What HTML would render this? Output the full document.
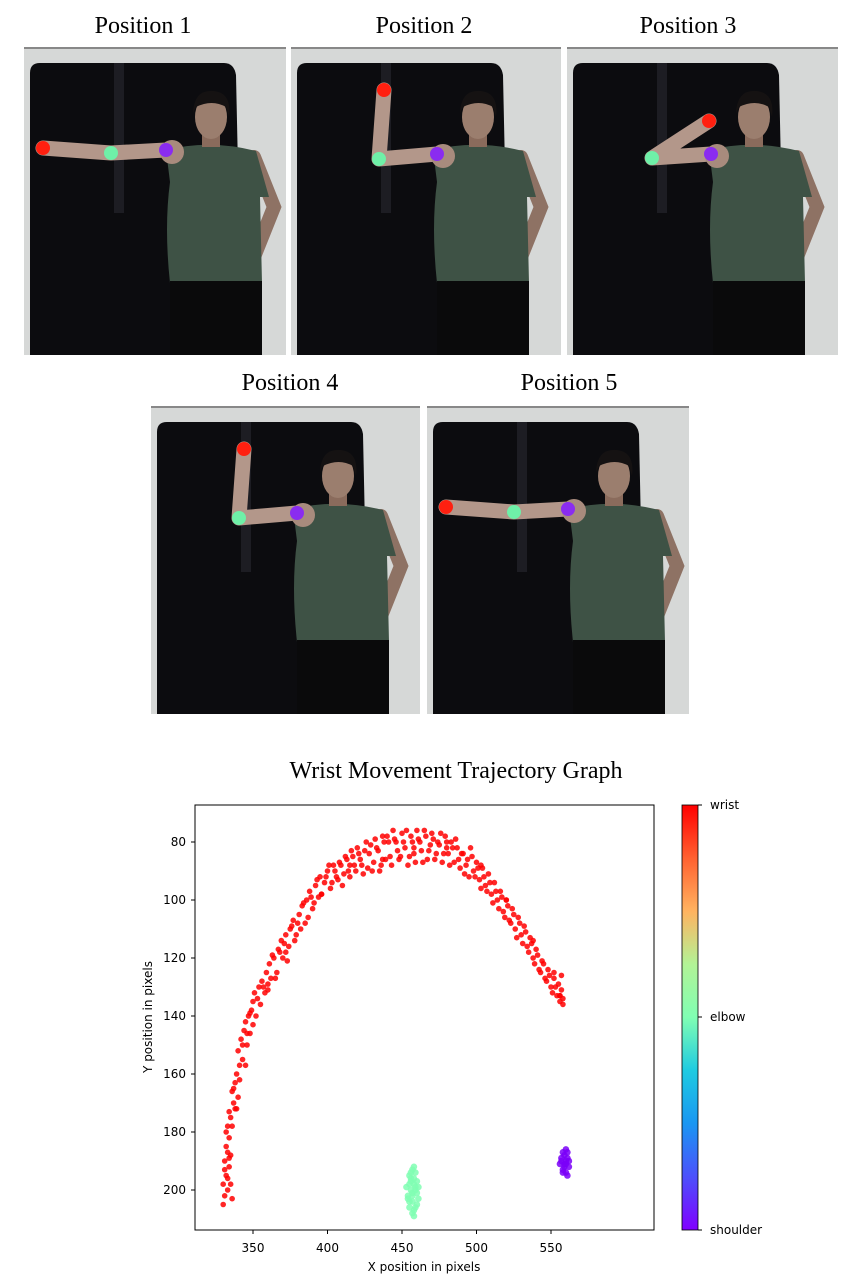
<!DOCTYPE html>
<html><head><meta charset="utf-8"><style>
html,body{margin:0;padding:0;background:#fff;}
svg{display:block;}
.ser{font-family:"Liberation Serif",serif;}
.sans{font-family:"DejaVu Sans","Liberation Sans",sans-serif;}
</style></head><body>
<svg id="page" width="866" height="1280" viewBox="0 0 866 1280">
<defs>
<linearGradient id="cbgrad" x1="0" y1="1" x2="0" y2="0">
<stop offset="0" stop-color="#8000ff"/><stop offset="0.125" stop-color="#4c50fc"/>
<stop offset="0.25" stop-color="#1a96f2"/><stop offset="0.375" stop-color="#1ecbe1"/>
<stop offset="0.5" stop-color="#80feb3"/><stop offset="0.625" stop-color="#b2f396"/>
<stop offset="0.75" stop-color="#ffb360"/><stop offset="0.875" stop-color="#ff6130"/>
<stop offset="1" stop-color="#ff0000"/>
</linearGradient>
</defs>
<g id="photos"></g>
<text class="ser" x="456" y="778" font-size="24" text-anchor="middle">Wrist Movement Trajectory Graph</text>
<rect x="195" y="805" width="459" height="425" fill="#fff" stroke="#000" stroke-width="1"/>
<g id="marks"></g>
<g id="axes"></g>
<rect x="682" y="805" width="16" height="425" fill="url(#cbgrad)" stroke="#000" stroke-width="0.8"/>
<g id="cb"></g>
<text class="sans" x="424" y="1271" font-size="12" text-anchor="middle">X position in pixels</text>
<text class="sans" transform="translate(152,1017) rotate(-90)" font-size="12" text-anchor="middle">Y position in pixels</text>
</svg>
<script>
// ---- chart data ----
const xTicks=[350,400,450,500,550];
const yTicks=[80,100,120,140,160,180,200];
const cbLabels=["wrist","elbow","shoulder"];
const wristX=[330,331,330,332,331,333,334,335,336,333,332,334,336,335,333,337,336,338,340,339,341,340,343,342,344,346,345,347,348,349,350,352,351,354,355,356,358,359,361,362,364,366,367,369,370,372,374,375,377,379,381,383,385,386,388,390,392,394,395,398,400,402,404,406,408,410,412,414,416,418,420,422,424,426,428,430,432,434,436,438,440,442,444,446,448,450,452,454,456,458,460,462,464,466,468,470,472,474,476,478,480,482,484,486,488,490,492,494,496,498,500,502,504,506,508,510,512,514,516,518,520,522,524,526,528,530,532,534,536,538,540,542,544,546,548,550,552,554,555,556,557,558,557,334,338,345,360,372,396,415,437,458,480,503,520,538,552,556,
331,333,335,332,334,337,339,341,343,346,348,350,353,357,360,363,365,368,371,373,376,378,380,382,384,387,389,391,393,396,399,401,403,405,407,409,411,413,415,417,419,421,423,425,427,429,431,433,435,437,439,441,443,445,447,449,451,453,455,457,459,461,463,465,467,469,471,473,475,477,479,481,483,485,487,489,491,493,495,497,499,501,503,505,507,509,511,513,515,517,519,521,523,525,527,529,531,533,535,537,539,541,543,545,547,549,551,553,556,558];
const wristY=[205,202,198,195,190,187,192,198,203,200,185,182,178,175,178,170,166,163,168,160,157,152,155,148,145,150,142,140,146,138,135,140,132,130,136,128,132,125,122,127,120,125,117,114,120,112,116,110,107,112,105,102,108,100,97,103,95,99,92,94,90,96,88,92,87,95,85,90,83,88,82,86,91,80,84,90,79,83,88,80,78,85,76,80,86,77,82,88,78,84,76,80,87,78,83,77,86,80,77,84,80,88,82,79,86,84,91,86,82,90,87,93,89,95,91,98,94,100,97,104,100,107,103,110,106,112,109,116,113,120,117,124,121,127,124,130,127,133,129,135,131,136,126,189,172,157,131,118,98,88,86,82,82,88,100,114,125,133,
193,196,188,180,173,165,172,162,150,146,139,143,134,130,129,119,127,118,115,121,109,114,108,110,101,106,99,101,93,98,92,88,94,90,93,88,91,86,92,85,90,84,88,83,89,81,87,82,90,78,86,80,88,79,83,85,80,76,85,80,87,79,83,76,86,81,79,84,81,87,78,84,80,87,82,89,84,88,92,85,92,89,96,92,97,94,101,97,103,99,106,102,108,105,113,108,115,111,118,115,122,119,125,122,128,126,132,130,133,134];
const elbowX=[455,457,459,458,456,454,460,457,459,455,458,461,453,456,457,460,458,455,456,459,457,454,460,458,456,459,457,455,461,458];
const elbowY=[195,193,194,198,200,202,201,204,206,204,207,203,199,197,208,197,192,206,196,199,201,203,205,209,194,200,202,198,199,196];
const shoulderX=[558,560,561,559,557,562,560,558,556,561,559,560,559,561,557,560,558,562];
const shoulderY=[187,186,189,191,190,192,194,193,191,195,188,190,192,187,189,191,194,190];
const NS='http://www.w3.org/2000/svg';
function xs(v){return 253+(v-350)*74.5/50;}
function ys(v){return 842+(v-80)*58/20;}
function mk(tag,attrs,parent){const e=document.createElementNS(NS,tag);for(const k in attrs)e.setAttribute(k,attrs[k]);parent.appendChild(e);return e;}
const marks=document.getElementById('marks');
function series(X,Y,col,name,r){
  for(let i=0;i<X.length;i++){
    const c=mk('circle',{cx:xs(X[i]),cy:ys(Y[i]),r:r,fill:col,'fill-opacity':0.85},marks);
    
    
  }
}
series(wristX,wristY,'#f00','wrist-point',2.8);
series(elbowX,elbowY,'#80feb3','elbow-point',3.3);
series(shoulderX,shoulderY,'#7a00f8','shoulder-point',3.3);
const axes=document.getElementById('axes');
xTicks.forEach(v=>{
  const l=mk('line',{x1:xs(v),x2:xs(v),y1:1230,y2:1234,stroke:'#000'},axes);
  
  
  const t=mk('text',{x:xs(v),y:1252,'font-size':12,'text-anchor':'middle',class:'sans'},axes);
  t.textContent=v;
  
  
});
yTicks.forEach(v=>{
  const l=mk('line',{x1:191,x2:195,y1:ys(v),y2:ys(v),stroke:'#000'},axes);
  
  
  const t=mk('text',{x:186,y:ys(v)+4,'font-size':12,'text-anchor':'end',class:'sans'},axes);
  t.textContent=v;
  
  
});
const cb=document.getElementById('cb');
const cbY=[805,1017,1230];
cbLabels.forEach((s,i)=>{
  mk('line',{x1:698,x2:702,y1:cbY[i],y2:cbY[i],stroke:'#000'},cb);
  const t=mk('text',{x:710,y:cbY[i]+4,'font-size':12,class:'sans'},cb);
  t.textContent=s;
  
  
});
// ---- photos ----
const photos=document.getElementById('photos');
const P=[
 {x:24,y:47,w:262,h:308,t:'Position 1',tx:143,ty:33,wr:[19,101],el:[87,106],sh:[142,103]},
 {x:291,y:47,w:270,h:308,t:'Position 2',tx:424,ty:33,wr:[93,43],el:[88,112],sh:[146,107]},
 {x:567,y:47,w:271,h:308,t:'Position 3',tx:688,ty:33,wr:[142,74],el:[85,111],sh:[144,107]},
 {x:151,y:406,w:269,h:308,t:'Position 4',tx:290,ty:390,wr:[93,43],el:[88,112],sh:[146,107]},
 {x:427,y:406,w:262,h:308,t:'Position 5',tx:569,ty:390,wr:[19,101],el:[87,106],sh:[141,103]}
];
P.forEach((p,i)=>{
  const tt=mk('text',{x:p.tx,y:p.ty,'font-size':24,'text-anchor':'middle',class:'ser'},photos);
  tt.textContent=p.t;
  
  
  const g=mk('g',{transform:`translate(${p.x},${p.y})`},photos);
  
  
  mk('rect',{x:0,y:0,width:p.w,height:p.h,fill:'#d6d8d7'},g);
  mk('rect',{x:0,y:0,width:p.w,height:2,fill:'#888'},g);
  mk('path',{d:`M6 ${p.h} L6 26 Q6 16 16 16 L200 16 Q210 16 212 28 L218 ${p.h} Z`,fill:'#0c0c0f'},g);
  mk('rect',{x:90,y:16,width:10,height:150,fill:'#2a2a30',opacity:0.6},g);
  mk('polyline',{points:'230,110 250,160 228,215',fill:'none',stroke:'#8e7264','stroke-width':14,'stroke-linecap':'round'},g);
  mk('path',{d:'M142 103 Q185 92 232 104 L245 150 L236 150 L238 236 L146 236 Q140 180 146 135 Z',fill:'#3e5245'},g);
  mk('rect',{x:146,y:234,width:92,height:p.h-234,fill:'#0a0a0b'},g);
  mk('rect',{x:178,y:80,width:18,height:20,fill:'#8a6b5c'},g);
  mk('ellipse',{cx:187,cy:70,rx:16,ry:22,fill:'#9b7e6e'},g);
  mk('path',{d:'M169 66 Q170 42 190 44 Q208 46 205 70 L202 60 Q188 52 172 60 Z',fill:'#151212'},g);
  mk('polyline',{points:`${p.wr[0]},${p.wr[1]} ${p.el[0]},${p.el[1]} ${p.sh[0]},${p.sh[1]}`,fill:'none',stroke:'#b3978a','stroke-width':15,'stroke-linecap':'round','stroke-linejoin':'round'},g);
  mk('circle',{cx:p.sh[0]+6,cy:p.sh[1]+2,r:12,fill:'#a88b7d'},g);
  mk('circle',{cx:p.wr[0],cy:p.wr[1],r:7,fill:'#ff2010'},g);
  mk('circle',{cx:p.el[0],cy:p.el[1],r:7,fill:'#6ff0a8'},g);
  mk('circle',{cx:p.sh[0],cy:p.sh[1],r:7,fill:'#8a2cf0'},g);
});
</script>
</body></html>
